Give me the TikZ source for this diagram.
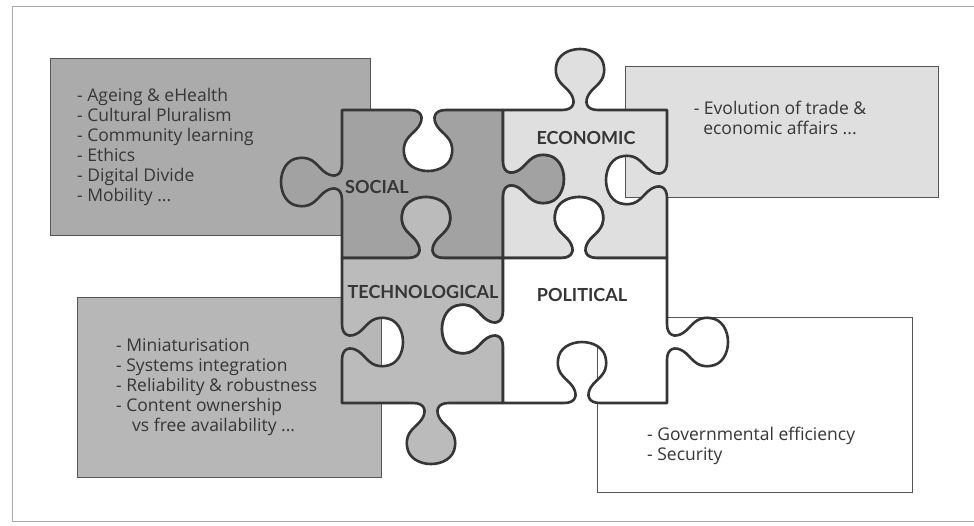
\documentclass[tikz,border=0pt]{standalone}
\usepackage{fontspec}
\setmainfont{Lato}
\newfontfamily\listfont{Open Sans}
\usetikzlibrary{positioning}
\definecolor{ink}{HTML}{363636}
\definecolor{boxline}{HTML}{555555}
\definecolor{framegrey}{HTML}{A8A8A8}
\definecolor{socbox}{HTML}{ABABAB}
\definecolor{socpiece}{HTML}{A2A2A2}
\definecolor{techbox}{HTML}{B7B7B7}
\definecolor{techpiece}{HTML}{BBBBBB}
\definecolor{ecogrey}{HTML}{DFDFDF}
\tikzset{
	infobox/.style={draw=boxline, line width=0.8pt, rectangle, anchor=north west, inner sep=0pt, outer sep=0pt},
	listtxt/.style={align=left, text=ink, font=\listfont\fontsize{17.5}{20}\selectfont, inner sep=0pt},
	plabel/.style={text=ink, font=\bfseries\fontsize{18}{20}\selectfont, inner sep=0pt},
	piece/.style={draw=ink, line width=2.6pt, line join=round}
}
% knob on a horizontal edge: centre x, edge y, run direction, out direction
\newcommand{\hknob}[4]{%
	-- ({#1-(#3)*18},#2)
	.. controls ({#1-(#3)*6},#2) and ({#1-(#3)*4},{#2+(#4)*8}) .. ({#1-(#3)*9},{#2+(#4)*16})
	.. controls ({#1-(#3)*14},{#2+(#4)*24}) and ({#1-(#3)*26},{#2+(#4)*28}) .. ({#1-(#3)*24},{#2+(#4)*43})
	.. controls ({#1-(#3)*22},{#2+(#4)*67}) and ({#1+(#3)*22},{#2+(#4)*67}) .. ({#1+(#3)*24},{#2+(#4)*43})
	.. controls ({#1+(#3)*26},{#2+(#4)*28}) and ({#1+(#3)*14},{#2+(#4)*24}) .. ({#1+(#3)*9},{#2+(#4)*16})
	.. controls ({#1+(#3)*4},{#2+(#4)*8}) and ({#1+(#3)*6},#2) .. ({#1+(#3)*18},#2)}
% same on a vertical edge: centre y, edge x, run direction, out direction
\newcommand{\vknob}[4]{%
	-- (#2,{#1-(#3)*18})
	.. controls (#2,{#1-(#3)*6}) and ({#2+(#4)*8},{#1-(#3)*4}) .. ({#2+(#4)*16},{#1-(#3)*9})
	.. controls ({#2+(#4)*24},{#1-(#3)*14}) and ({#2+(#4)*28},{#1-(#3)*26}) .. ({#2+(#4)*43},{#1-(#3)*24})
	.. controls ({#2+(#4)*67},{#1-(#3)*22}) and ({#2+(#4)*67},{#1+(#3)*22}) .. ({#2+(#4)*43},{#1+(#3)*24})
	.. controls ({#2+(#4)*28},{#1+(#3)*26}) and ({#2+(#4)*24},{#1+(#3)*14}) .. ({#2+(#4)*16},{#1+(#3)*9})
	.. controls ({#2+(#4)*8},{#1+(#3)*4}) and (#2,{#1+(#3)*6}) .. (#2,{#1+(#3)*18})}

\begin{document}
\begin{tikzpicture}[x=1pt,y=-1pt]
	\useasboundingbox (0,0) rectangle (974,525);
	\draw[framegrey, line width=0.6pt] (974,6) -- (12,6) -- (12,521) -- (974,521);
	% the four boxes behind
	\node[infobox, fill=socbox, minimum width=320pt, minimum height=177pt] (socbox) at (50,58) {};
	\node[infobox, fill=ecogrey, minimum width=313pt, minimum height=131pt] (ecobox) at (625,66) {};
	\node[infobox, fill=techbox, minimum width=304pt, minimum height=180pt] (techbox) at (77,297) {};
	\node[infobox, fill=white, minimum width=315pt, minimum height=175pt] (polbox) at (597,317) {};
	% puzzle
	\path[piece, fill=socpiece] (342,110) \hknob{428}{110}{1}{1} -- (503,110) \vknob{179}{503}{1}{1}
		-- (503,258) \hknob{426}{258}{-1}{-1} -- (342,258) \vknob{182}{342}{-1}{-1} -- cycle;
	\path[piece, fill=ecogrey] (503,110) \hknob{580}{110}{1}{-1} -- (667,110) \vknob{180}{667}{1}{-1}
		-- (667,258) \hknob{579}{258}{-1}{-1} -- (503,258) \vknob{179}{503}{-1}{1} -- cycle;
	\path[piece, fill=techpiece] (342,258) \hknob{426}{258}{1}{-1} -- (503,258) \vknob{329}{503}{1}{-1}
		-- (503,403) \hknob{431}{403}{-1}{1} -- (342,403) \vknob{342}{342}{-1}{1} -- cycle;
	\path[piece, fill=white] (503,258) \hknob{579}{258}{1}{-1} -- (667,258) \vknob{342}{667}{1}{1}
		-- (667,403) \hknob{582}{403}{-1}{-1} -- (503,403) \vknob{329}{503}{-1}{-1} -- cycle;
	\node[plabel] (soclbl) at (377,187) {SOCIAL};
	\node[plabel] (ecolbl) at (586,138) {ECONOMIC};
	\node[plabel] (techlbl) at (423,292) {TECHNOLOGICAL};
	\node[plabel] (pollbl) at (582,295) {POLITICAL};
	% texts
	\node[listtxt, anchor=west] (soclist) at ([xshift=27pt]socbox.west)
		{- Ageing \& eHealth\\- Cultural Pluralism\\- Community learning\\- Ethics\\- Digital Divide\\- Mobility ...};
	\node[listtxt, align=center] (ecolist) at (780,118) {- Evolution of trade \&\\economic affairs ...};
	\node[listtxt, anchor=west] (techlist) at ([xshift=39pt]techbox.west)
		{- Miniaturisation\\- Systems integration\\- Reliability \& robustness\\- Content ownership\\\hspace*{16pt}vs free availability ...};
	\node[listtxt, anchor=west] (pollist) at (647,446) {- Governmental efficiency\\- Security};
\end{tikzpicture}
\end{document}
